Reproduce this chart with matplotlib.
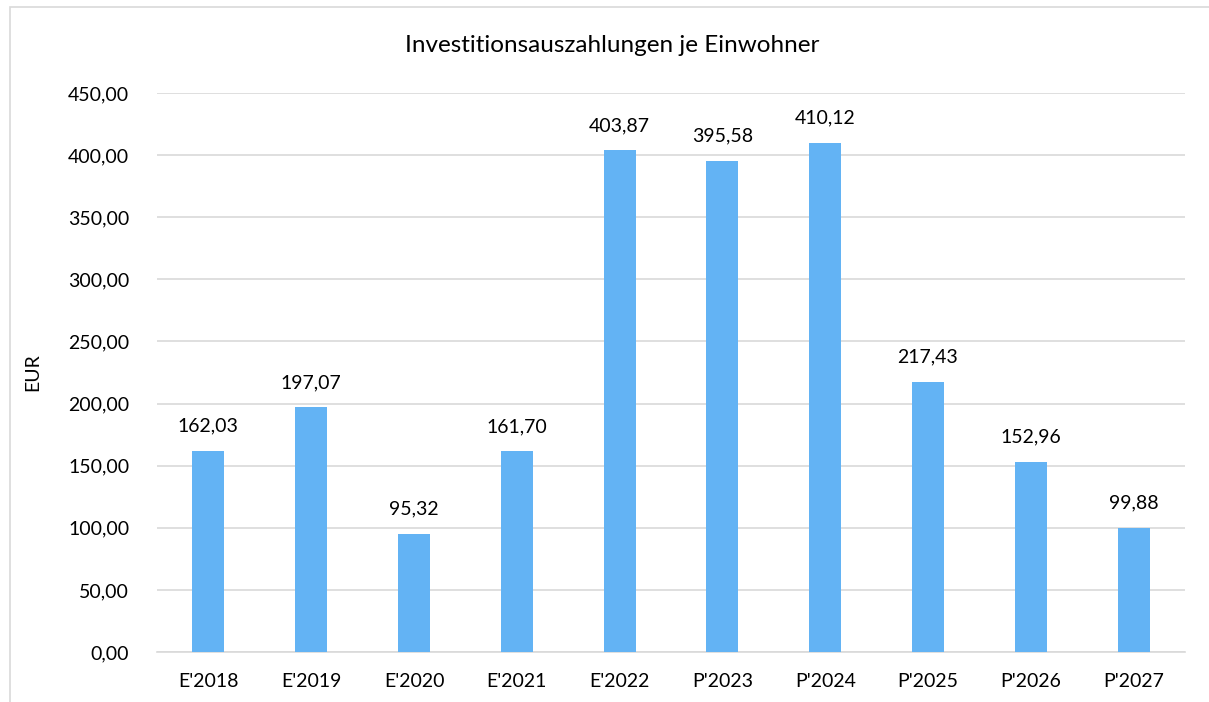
import matplotlib.pyplot as plt
import matplotlib.patches as mpatches
import numpy as np

plt.rcParams['font.family'] = ['Lato', 'DejaVu Sans']

categories = ["E'2018", "E'2019", "E'2020", "E'2021", "E'2022",
              "P'2023", "P'2024", "P'2025", "P'2026", "P'2027"]
values = [162.03, 197.07, 95.32, 161.70, 403.87,
          395.58, 410.12, 217.43, 152.96, 99.88]
yticks = np.arange(0, 451, 50)

W, H = 1209, 702
fig = plt.figure(figsize=(W / 100, H / 100), dpi=100)
# axes area in pixels: x 157..1185, y 93..652
ax = fig.add_axes([157 / W, 1 - 652 / H, (1185 - 157) / W, (652 - 93) / H])

# outer chart border (runs off the right and bottom edges)
fig.patches.append(mpatches.Rectangle((10 / W, -0.1), 1.2, 1 - 7 / H + 0.1,
                                      transform=fig.transFigure, fill=False,
                                      edgecolor='#d9d9d9', linewidth=1.2))

x = np.arange(len(categories))
ax.bar(x, values, width=0.31, color='#63b3f4', zorder=3)

for xi, v in zip(x, values):
    ax.text(xi, v + 13, f"{v:.2f}".replace('.', ','), ha='center', va='bottom',
            fontsize=14, color='#000000')

ax.set_xlim(-0.5, len(categories) - 0.5)
ax.set_ylim(0, 450)
ax.set_yticks(yticks)
ax.set_yticklabels([f"{t:.2f}".replace('.', ',') for t in yticks], fontsize=14)
ax.set_xticks(x)
ax.set_xticklabels(categories, fontsize=14)
ax.tick_params(axis='y', length=0, pad=20)
ax.tick_params(axis='x', length=0, pad=15)
ax.grid(axis='y', color='#d9d9d9', linewidth=1.2, zorder=0)
for s in ['top', 'right', 'left']:
    ax.spines[s].set_visible(False)
ax.spines['bottom'].set_color('#d9d9d9')
ax.spines['bottom'].set_linewidth(1.2)

fig.text(33 / W, 1 - 372 / H, 'EUR', rotation=90, ha='center', va='center',
         fontsize=14)
fig.text(612 / W, 1 - 45 / H, 'Investitionsauszahlungen je Einwohner',
         ha='center', va='center', fontsize=17.5)

fig.savefig('out.png', dpi=100)
